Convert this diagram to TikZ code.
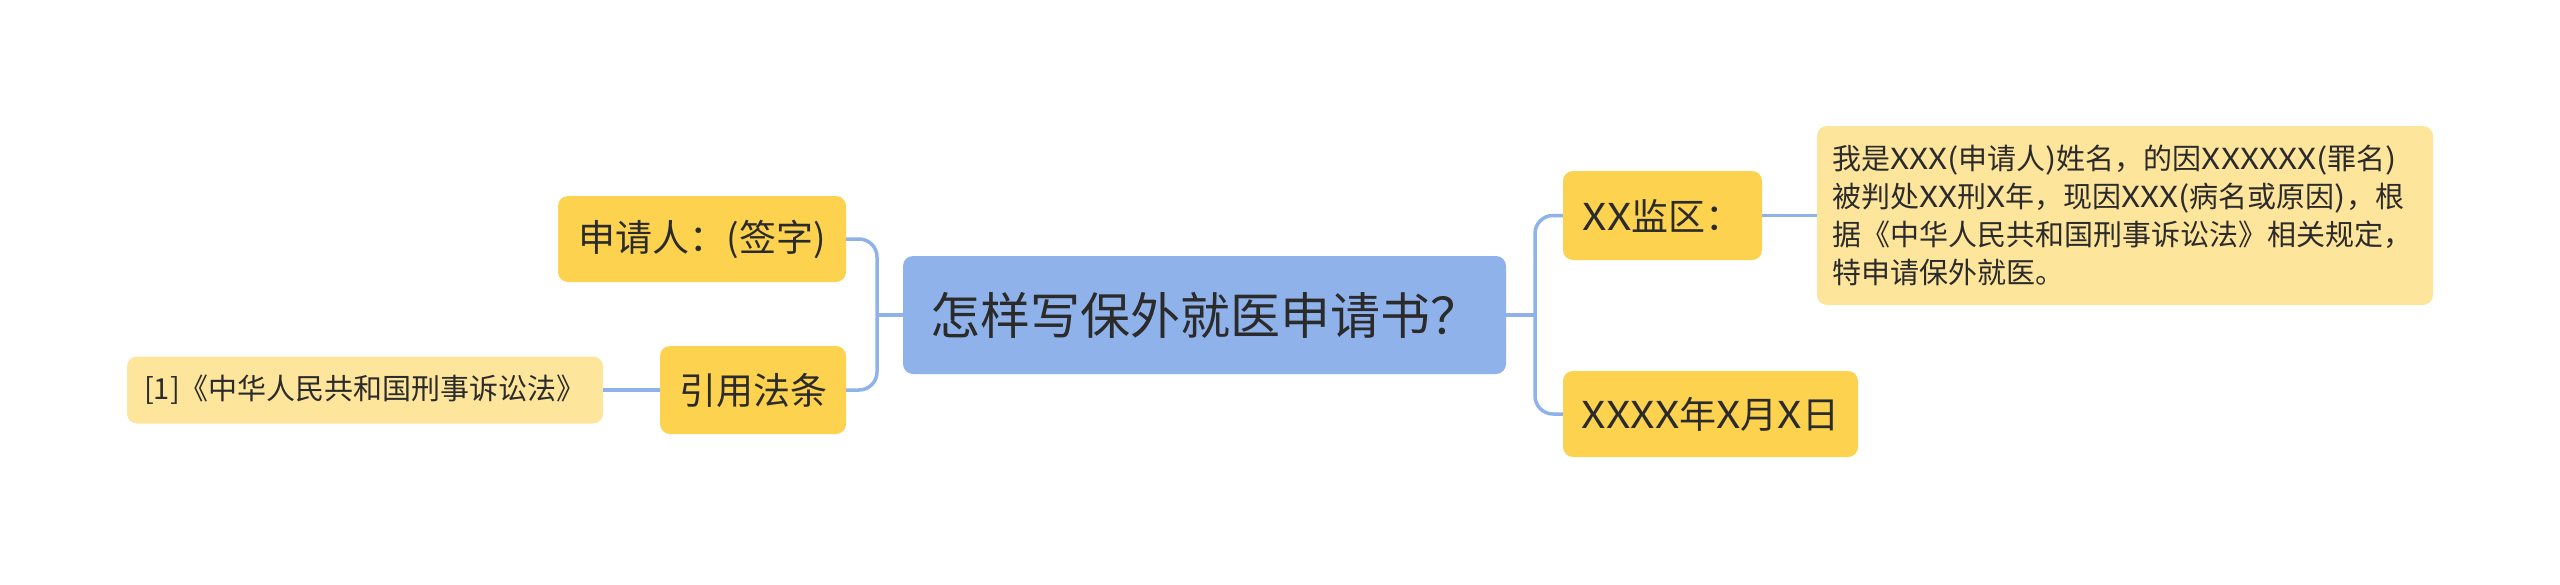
\documentclass[tikz,border=0pt]{standalone}
\usepackage{fontspec}
\newfontfamily\cjk{Noto Sans CJK SC}
\newfontfamily\latw[FakeStretch=1.15]{Noto Sans CJK SC}
\newcommand{\lw}[1]{{\latw #1}}
\definecolor{rootblue}{HTML}{8FB2EB}
\definecolor{lineblue}{HTML}{8FB2EB}
\definecolor{mainyellow}{HTML}{FDD24F}
\definecolor{lightyellow}{HTML}{FEE59C}
\definecolor{txt}{HTML}{2B2B2B}
\tikzset{
  rootbox/.style={fill=rootblue, rounded corners=10pt, text=txt,
    font=\cjk\fontsize{50}{58}\selectfont},
  mainbox/.style={fill=mainyellow, rounded corners=10pt, inner sep=0pt, text=txt,
    font=\cjk\fontsize{37}{44}\selectfont},
  leafbox/.style={fill=lightyellow, rounded corners=10pt, text=txt,
    font=\cjk\fontsize{29}{38}\selectfont},
  conn/.style={draw=lineblue, line width=3.5pt, rounded corners=18pt},
}
\begin{document}
\begin{tikzpicture}[x=1pt,y=-1pt]
\useasboundingbox (0,0) rectangle (2560,584);
\node[rootbox, inner xsep=27pt, inner ysep=0pt, text width=549pt, align=left, minimum height=118pt] (root) at (1204.5,315) {怎样写保外就医申请书？};
\node[mainbox, minimum width=288pt, minimum height=86pt] (sq) at (702,239) {申请人：(签字)};
\node[mainbox, minimum width=186pt, minimum height=88pt] (yy) at (753,390) {引用法条};
\node[leafbox, inner sep=0pt, minimum width=476pt, minimum height=67pt] (cite) at (365,390) {[1]《中华人民共和国刑事诉讼法》};
\node[mainbox, minimum width=199pt, minimum height=89pt] (jq) at (1662.5,215.5) {\lw{XX}监区：};
\node[mainbox, minimum width=295pt, minimum height=86pt] (date) at (1710.5,414) {\lw{XXXX}年\lw{X}月\lw{X}日};
\node[leafbox, inner xsep=15pt, inner ysep=0pt, text width=586pt, minimum height=179pt, align=left] (detail) at (2125,215.5)
  {我是\lw{XXX(}申请人\lw{)}姓名，的因\lw{XXXXXX(}罪名\lw{)}\\被判处\lw{XX}刑\lw{X}年，现因\lw{XXX(}病名或原因\lw{)}，根\\据《中华人民共和国刑事诉讼法》相关规定，\\特申请保外就医。};
\coordinate (lj) at (877,315);
\coordinate (rj) at (1535,315);
\draw[conn] (sq.east) -| (lj);
\draw[conn] (yy.east) -| (lj);
\draw[conn] (lj) -- (root.west);
\draw[conn] (cite.east) -- (yy.west);
\draw[conn] (root.east) -- (rj);
\draw[conn] (jq.west) -| (rj);
\draw[conn] (date.west) -| (rj);
\draw[conn] (jq.east) -- (detail.west);
\end{tikzpicture}
\end{document}
